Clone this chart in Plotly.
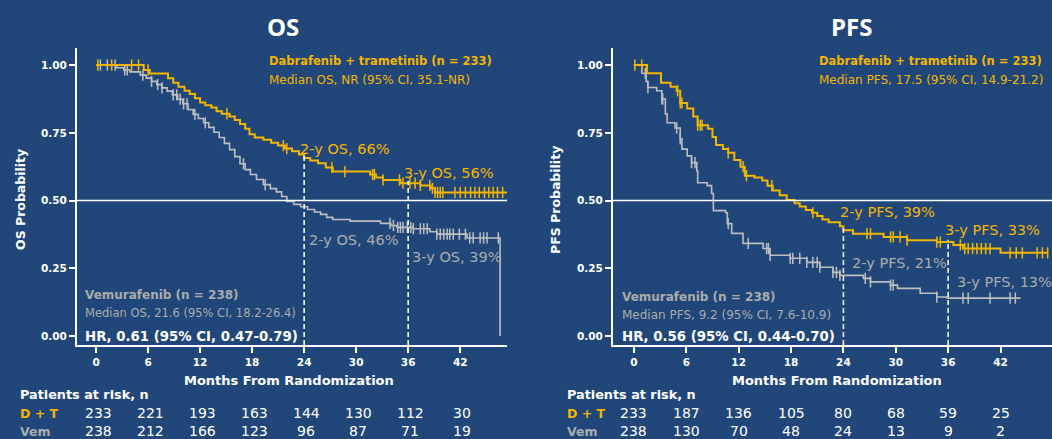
import numpy as np
import plotly.graph_objects as go

W, H = 1052, 439
BG = "#21477A"
YEL = "#F3B500"
GRY = "#BEBEBE"
GRY_TXT = "#ABABAB"
WHITE = "#FFFFFF"
FONT = "DejaVu Sans"

# ---------------- data ----------------
month_ticks = [0, 6, 12, 18, 24, 30, 36, 42]
prob_ticks = [0.0, 0.25, 0.5, 0.75, 1.0]
prob_labels = ["0.00", "0.25", "0.50", "0.75", "1.00"]

# Overall survival, dabrafenib + trametinib
os_dt_t = [0, 5.5, 6.2, 8.3, 8.9, 9.5, 10.2, 10.8, 11.4, 12.0, 12.6, 13.3, 13.9, 14.5,
           15.4, 16.0, 16.6, 17.2, 17.7, 18.3, 19.3, 20.2, 21.0, 21.8, 22.6, 23.4, 24.0,
           24.7, 25.6, 26.5, 27.3, 31.6, 32.3, 33.1, 35.1, 37.4, 38.6, 39.1, 47.6]
os_dt_s = [1.0, 0.982, 0.969, 0.951, 0.935, 0.92, 0.905, 0.893, 0.878, 0.862, 0.852, 0.843,
           0.83, 0.82, 0.81, 0.797, 0.783, 0.765, 0.745, 0.733, 0.724, 0.713, 0.703, 0.692,
           0.682, 0.67, 0.657, 0.648, 0.638, 0.622, 0.607, 0.596, 0.585, 0.576, 0.564,
           0.556, 0.545, 0.53, 0.53]
os_dt_cens = [0.2, 1.8, 4.1, 4.9, 6.0, 15.1, 21.6, 22.0, 27.2, 28.7, 31.9, 32.1, 33.1,
              35.0, 35.4, 36.2, 36.8, 37.4, 38.5, 38.8, 39.1, 39.4, 39.7, 40.0, 41.4, 42.0,
              42.6, 43.2, 43.7, 44.2, 44.8, 45.3, 45.8, 46.3, 46.9]

# Overall survival, vemurafenib
os_vem_t = [0, 2.4, 3.2, 3.9, 5.1, 5.8, 6.4, 7.0, 7.6, 8.2, 8.8, 9.4, 10.0, 10.6, 11.2,
            11.8, 12.4, 13.0, 13.6, 14.2, 14.8, 15.4, 16.0, 16.6, 17.2, 17.8, 18.5, 19.3,
            20.1, 20.8, 21.4, 22.0, 22.8, 23.6, 24.4, 25.2, 25.9, 26.6, 27.3, 29.3, 32.8,
            34.0, 34.7, 36.6, 38.5, 39.3, 42.8, 46.6]
os_vem_s = [1.0, 0.99, 0.982, 0.975, 0.963, 0.952, 0.94, 0.928, 0.916, 0.904, 0.89, 0.874,
            0.857, 0.836, 0.818, 0.803, 0.787, 0.77, 0.752, 0.733, 0.711, 0.688, 0.662,
            0.636, 0.614, 0.596, 0.578, 0.559, 0.544, 0.532, 0.515, 0.497, 0.486, 0.477,
            0.467, 0.458, 0.449, 0.438, 0.43, 0.424, 0.416, 0.408, 0.401, 0.396, 0.385,
            0.376, 0.362, 0.0]
os_vem_cens = [0.5, 1.3, 2.2, 3.3, 3.6, 5.4, 6.4, 7.1, 7.6, 8.9, 9.3, 9.7, 10.1, 10.5,
               11.4, 12.6, 17.0, 19.5, 33.9, 34.3, 34.8, 35.1, 35.4, 35.9, 36.3, 36.6,
               37.4, 37.8, 38.2, 39.3, 39.7, 40.1, 40.5, 40.8, 41.2, 41.9, 42.6, 43.1,
               43.5, 44.3, 44.7, 45.1, 46.4]

# Progression-free survival, dabrafenib + trametinib
pfs_dt_t = [0, 1.5, 3.1, 4.2, 4.9, 5.3, 6.1, 6.8, 7.3, 8.5, 9.0, 9.4, 10.2, 10.8, 11.5,
            12.2, 12.7, 13.8, 14.7, 15.3, 15.9, 16.7, 17.5, 18.4, 19.0, 19.7, 20.4, 21.0,
            21.6, 22.3, 23.6, 24.0, 25.1, 28.6, 31.3, 34.7, 36.6, 37.7, 42.0, 47.4]
pfs_dt_s = [1.0, 0.97, 0.935, 0.92, 0.905, 0.86, 0.84, 0.81, 0.778, 0.765, 0.735, 0.705,
            0.69, 0.676, 0.65, 0.625, 0.592, 0.585, 0.574, 0.555, 0.537, 0.52, 0.502, 0.49,
            0.478, 0.465, 0.455, 0.443, 0.43, 0.42, 0.405, 0.39, 0.378, 0.366, 0.354,
            0.347, 0.336, 0.323, 0.307, 0.307]
pfs_dt_cens = [0.1, 0.9, 5.0, 5.3, 5.5, 7.3, 7.6, 7.8, 10.8, 12.5, 12.9, 15.8, 20.5, 26.7,
               27.1, 29.4, 29.7, 30.5, 31.3, 34.7, 35.1, 37.4, 37.9, 38.3, 38.8, 39.3,
               39.8, 40.3, 40.8, 43.1, 43.8, 44.5, 46.2, 46.8, 47.4]

# Progression-free survival, vemurafenib
pfs_vem_t = [0, 0.9, 1.4, 1.6, 2.6, 3.2, 3.6, 3.8, 4.7, 5.3, 5.5, 6.1, 6.6, 7.2, 7.3, 8.4,
             8.9, 9.1, 10.5, 10.7, 11.2, 12.5, 14.8, 15.6, 17.9, 19.8, 21.3, 22.8, 23.6,
             26.3, 27.1, 29.4, 30.2, 32.8, 34.7, 35.9, 44.3]
pfs_vem_s = [1.0, 0.97, 0.94, 0.917, 0.905, 0.875, 0.82, 0.787, 0.768, 0.728, 0.69, 0.665,
             0.64, 0.61, 0.566, 0.555, 0.526, 0.463, 0.455, 0.415, 0.379, 0.342, 0.323,
             0.298, 0.287, 0.272, 0.254, 0.235, 0.224, 0.213, 0.2, 0.188, 0.176, 0.158,
             0.144, 0.14, 0.14]
pfs_vem_cens = [1.3, 1.6, 3.2, 3.3, 4.9, 5.3, 6.6, 7.0, 10.8, 13.1, 15.2, 15.4, 15.6,
                17.9, 18.2, 19.0, 19.8, 20.5, 21.0, 21.3, 22.8, 23.2, 23.6, 26.5, 27.1,
                29.4, 29.7, 34.7, 37.7, 38.3, 40.8, 43.1, 43.7]

# 2- and 3-year landmark estimates
os_dt_landmark = [66, 56]
os_vem_landmark = [46, 39]
pfs_dt_landmark = [39, 33]
pfs_vem_landmark = [21, 13]

# numbers at risk
os_risk_dt = [233, 221, 193, 163, 144, 130, 112, 30]
os_risk_vem = [238, 212, 166, 123, 96, 87, 71, 19]
pfs_risk_dt = [233, 187, 136, 105, 80, 68, 59, 25]
pfs_risk_vem = [238, 130, 70, 48, 24, 13, 9, 2]


def surv_at(times, surv, t):
    i = int(np.searchsorted(np.asarray(times), t, side="right")) - 1
    return surv[max(i, 0)]


def px(x):
    return x / W


def py(y):
    return 1 - y / H


fig = go.Figure()

panels = [
    dict(xa="x", ya="y", dt=(os_dt_t, os_dt_s, os_dt_cens), vem=(os_vem_t, os_vem_s, os_vem_cens)),
    dict(xa="x2", ya="y2", dt=(pfs_dt_t, pfs_dt_s, pfs_dt_cens), vem=(pfs_vem_t, pfs_vem_s, pfs_vem_cens)),
]

for p in panels:
    for key, color, width in (("vem", GRY, 1.6), ("dt", YEL, 2.0)):
        t, s, c = p[key]
        fig.add_trace(go.Scatter(x=t, y=s, mode="lines", line=dict(color=color, width=width, shape="hv"),
                                 xaxis=p["xa"], yaxis=p["ya"], showlegend=False, hoverinfo="skip"))
        fig.add_trace(go.Scatter(x=c, y=[surv_at(t, s, ci) for ci in c], mode="markers",
                                 marker=dict(symbol="line-ns", size=8, line=dict(color=color, width=1.5)),
                                 xaxis=p["xa"], yaxis=p["ya"], showlegend=False, hoverinfo="skip"))

ydom = [py(345), py(48)]
axis_common = dict(showgrid=False, zeroline=False, showline=True, linecolor=WHITE, linewidth=2,
                   ticks="outside", ticklen=6, tickwidth=1.5, tickcolor=WHITE,
                   tickfont=dict(family=FONT, size=10.5, color=WHITE, weight="bold"))

fig.update_layout(
    width=W, height=H, margin=dict(l=0, r=0, t=0, b=0),
    paper_bgcolor=BG, plot_bgcolor=BG, showlegend=False,
    xaxis=dict(domain=[px(77), px(507)], range=[-2.2, 47.4], tickvals=month_ticks, anchor="y", **axis_common),
    yaxis=dict(domain=ydom, range=[-0.033, 1.063], tickvals=prob_ticks, ticktext=prob_labels, anchor="x", **axis_common),
    xaxis2=dict(domain=[px(613), 1.0], range=[-2.4, 47.9], tickvals=month_ticks, anchor="y2", **axis_common),
    yaxis2=dict(domain=ydom, range=[-0.033, 1.063], tickvals=prob_ticks, ticktext=prob_labels, anchor="x2", **axis_common),
)

shapes = []
for xa, ya, tops in (("x", "y", (os_dt_t, os_dt_s)), ("x2", "y2", (pfs_dt_t, pfs_dt_s))):
    shapes.append(dict(type="line", xref=f"{xa} domain", yref=ya, x0=0, x1=1, y0=0.5, y1=0.5,
                       line=dict(color=WHITE, width=1.5)))
    for m in (24, 36):
        shapes.append(dict(type="line", xref=xa, yref=ya, x0=m, x1=m, y0=-0.033,
                           y1=surv_at(tops[0], tops[1], m) + 0.008,
                           line=dict(color=WHITE, width=1.5, dash="5px,3px")))
fig.update_layout(shapes=shapes)

ann = []


def text(x, y, s, color=WHITE, size=11, bold=False, xanchor="left", family=FONT, **kw):
    ann.append(dict(x=px(x), y=py(y), xref="paper", yref="paper", text=s, showarrow=False,
                    xanchor=xanchor, yanchor="middle",
                    font=dict(family=family, size=size, color=color, weight="bold" if bold else "normal"), **kw))


# panel titles
text(283, 26, "OS", size=24, bold=True, xanchor="center", family="Open Sans")
text(851, 26, "PFS", size=24, bold=True, xanchor="center", family="Open Sans")

# axis titles
text(20, 200, "OS Probability", size=12.5, bold=True, xanchor="center", textangle=-90)
text(555, 200, "PFS Probability", size=12.5, bold=True, xanchor="center", textangle=-90)
text(289, 380, "Months From Randomization", size=13, bold=True, xanchor="center")
text(837, 380, "Months From Randomization", size=13, bold=True, xanchor="center")

# OS panel annotations
text(267, 61, "Dabrafenib + trametinib (n = 233)", color=YEL, size=11.5, bold=True)
text(267, 80, "Median OS, NR (95% CI, 35.1-NR)", color=YEL, size=12)
text(298, 149, f"2-y OS, {os_dt_landmark[0]}%", color=YEL, size=14.5)
text(402, 173, f"3-y OS, {os_dt_landmark[1]}%", color=YEL, size=14.5)
text(307, 240, f"2-y OS, {os_vem_landmark[0]}%", color=GRY_TXT, size=14.5)
text(410, 257, f"3-y OS, {os_vem_landmark[1]}%", color=GRY_TXT, size=14.5)
text(83, 295, "Vemurafenib (n = 238)", color=GRY_TXT, size=12, bold=True)
text(83, 313, "Median OS, 21.6 (95% CI, 18.2-26.4)", color=GRY_TXT, size=11.5)
text(83, 336, "HR, 0.61 (95% CI, 0.47-0.79)", color=WHITE, size=13.3, bold=True)

# PFS panel annotations
text(817, 61, "Dabrafenib + trametinib (n = 233)", color=YEL, size=11.5, bold=True)
text(817, 80, "Median PFS, 17.5 (95% CI, 14.9-21.2)", color=YEL, size=12)
text(838, 212, f"2-y PFS, {pfs_dt_landmark[0]}%", color=YEL, size=14.5)
text(943, 230, f"3-y PFS, {pfs_dt_landmark[1]}%", color=YEL, size=14.5)
text(850, 263, f"2-y PFS, {pfs_vem_landmark[0]}%", color=GRY_TXT, size=14.5)
text(955, 282, f"3-y PFS, {pfs_vem_landmark[1]}%", color=GRY_TXT, size=14.5)
text(620, 297, "Vemurafenib (n = 238)", color=GRY_TXT, size=12, bold=True)
text(620, 315, "Median PFS, 9.2 (95% CI, 7.6-10.9)", color=GRY_TXT, size=12)
text(620, 336, "HR, 0.56 (95% CI, 0.44-0.70)", color=WHITE, size=13.3, bold=True)

# numbers-at-risk tables
for x0, xa, dt_row, vem_row in ((18, "x", os_risk_dt, os_risk_vem), (565, "x2", pfs_risk_dt, pfs_risk_vem)):
    text(x0, 394, "Patients at risk, n", size=12.8, bold=True)
    text(x0, 413, "D + T", color=YEL, size=12.5, bold=True)
    text(x0, 431, "Vem", color=GRY_TXT, size=12.5, bold=True)
    for row, yy in ((dt_row, 413), (vem_row, 431)):
        for m, n in zip(month_ticks, row):
            ann.append(dict(x=m, y=py(yy), xref=xa, yref="paper", text=str(n), showarrow=False,
                            xanchor="center", yanchor="middle", xshift=2 if xa == "x" else 0,
                            font=dict(family=FONT, size=14, color=WHITE)))

fig.update_layout(annotations=ann)
fig.write_html("out.html")
